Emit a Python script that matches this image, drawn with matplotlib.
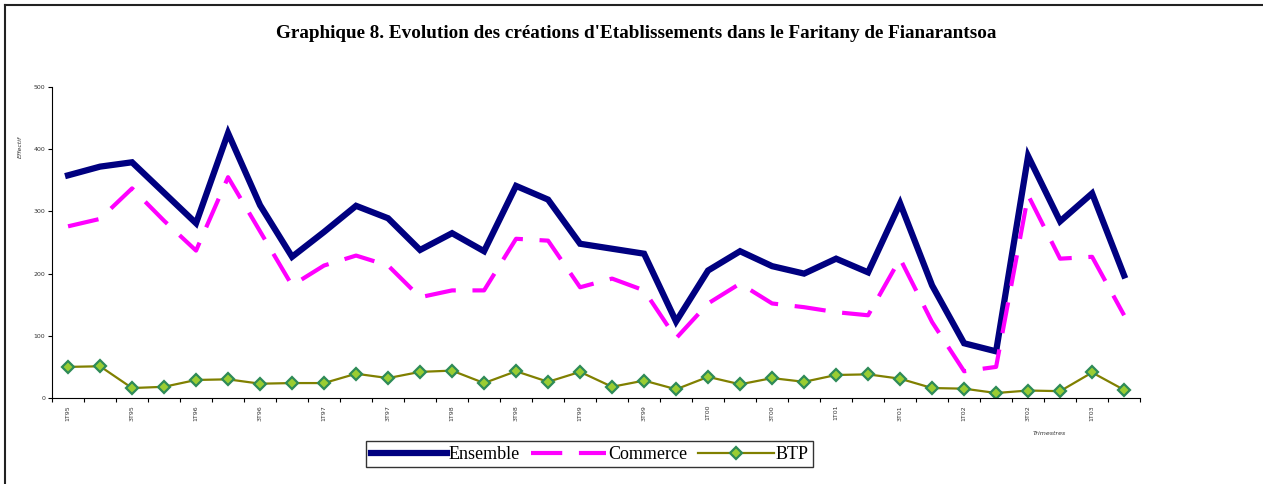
import matplotlib
matplotlib.use("Agg")
import matplotlib.pyplot as plt
from matplotlib.lines import Line2D
import numpy as np

# trimestres 1T95 .. 2T03
trimestres = ["1T95", "2T95", "3T95", "4T95", "1T96", "2T96", "3T96", "4T96",
              "1T97", "2T97", "3T97", "4T97", "1T98", "2T98", "3T98", "4T98",
              "1T99", "2T99", "3T99", "4T99", "1T00", "2T00", "3T00", "4T00",
              "1T01", "2T01", "3T01", "4T01", "1T02", "2T02", "3T02", "4T02",
              "1T03", "2T03"]

ensemble = [358, 372, 379, 330, 281, 426, 310, 227, 267, 309, 289, 238, 265, 236,
            341, 319, 248, 240, 232, 123, 205, 236, 212, 200, 224, 202, 313, 181,
            88, 75, 389, 284, 329, 197]

commerce = [276, 288, 337, 285, 237, 355, 268, 181, 213, 229, 213, 162, 173, 173,
            256, 253, 178, 192, 173, 96, 152, 184, 152, 146, 138, 133, 224, 122,
            43, 50, 326, 224, 227, 133]

btp = [50, 51, 16, 18, 29, 30, 23, 24, 24, 39, 32, 42, 44, 24, 43, 26, 42, 18,
       28, 14, 34, 22, 32, 26, 37, 38, 31, 16, 15, 8, 12, 11, 41, 13]

x = np.arange(len(trimestres))

fig = plt.figure(figsize=(12.63, 4.84), dpi=100)
ax = fig.add_axes([0.0412, 0.1777, 0.8615, 0.6425])

ax.plot(x, ensemble, color="#000080", lw=4.5, solid_joinstyle="miter",
        label="Ensemble")
ax.plot(x, commerce, color="#FF00FF", lw=3, linestyle=(0, (7.5, 4)),
        label="Commerce")
ax.plot(x, btp, color="#808000", lw=1.6, marker="D", markersize=6.5,
        markerfacecolor="#9ACD32", markeredgecolor="#2E8B57",
        markeredgewidth=1.6, label="BTP")

ax.set_xlim(-0.5, len(x) - 0.5)
ax.set_ylim(0, 500)
ax.set_yticks(range(0, 501, 100))
ax.tick_params(axis="y", labelsize=4.5, length=3, width=0.8, pad=2,
               labelcolor="#333333")

# ticks between categories, labels every second quarter
ax.set_xticks(np.arange(-0.5, len(x), 1.0))
ax.set_xticklabels([])
ax.set_xticks(x[::2], minor=True)
ax.set_xticklabels(trimestres[::2], minor=True, rotation=90, fontsize=4.5,
                   color="#333333")
ax.tick_params(axis="x", which="major", length=3, width=0.8)
ax.tick_params(axis="x", which="minor", length=0, pad=5)

for s in ["top", "right"]:
    ax.spines[s].set_visible(False)
ax.spines["left"].set_linewidth(0.8)
ax.spines["bottom"].set_linewidth(0.8)

fig.text(0.504, 0.93,
         "Graphique 8. Evolution des créations d'Etablissements dans le Faritany de Fianarantsoa",
         ha="center", va="center", fontsize=13.8, fontweight="bold",
         family="Liberation Serif")
fig.text(0.016, 0.696, "Effectif", rotation=90, fontsize=4.5, style="italic",
         ha="center", va="center", color="#333333")
fig.text(0.831, 0.105, "Trimestres", fontsize=4.5, style="italic",
         ha="center", va="center", color="#333333")

leg = fig.legend(loc="center", bbox_to_anchor=(0.467, 0.061), ncol=3,
                 prop={"family": "Liberation Serif", "size": 13},
                 handlelength=4.2, handletextpad=0.1, columnspacing=0.6,
                 frameon=True, fancybox=False, edgecolor="black",
                 borderpad=0.25)
leg.get_frame().set_linewidth(1.0)

# cadre de la figure
fig.add_artist(Line2D([0.004, 1.0], [0.99, 0.99], transform=fig.transFigure,
                      color="#222222", lw=1.5))
fig.add_artist(Line2D([0.004, 0.004], [0.0, 0.99], transform=fig.transFigure,
                      color="#222222", lw=1.5))

fig.savefig("out.png", dpi=100)
